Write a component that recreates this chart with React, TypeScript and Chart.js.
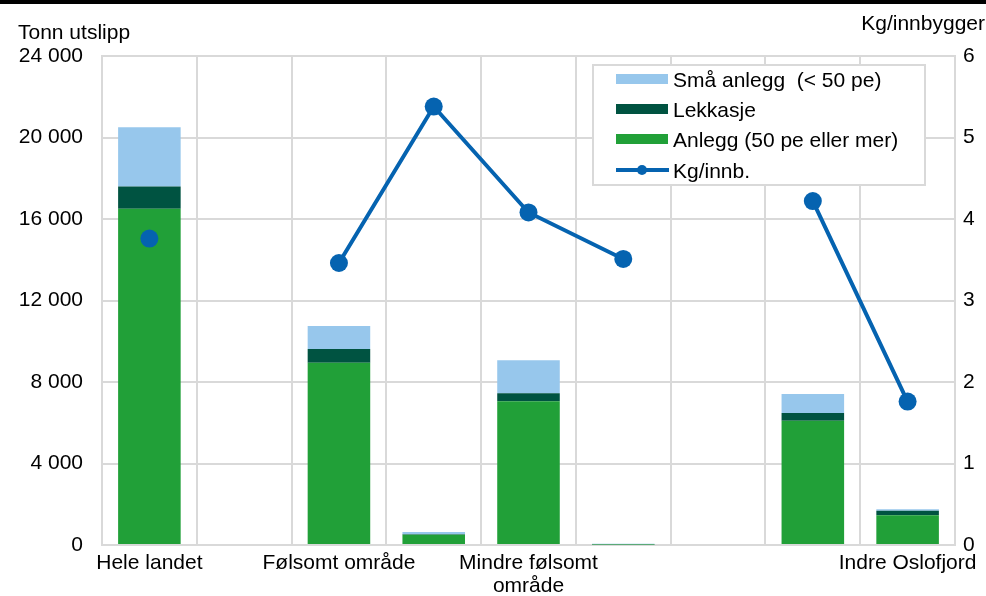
import React, { useEffect, useRef } from "react";
import { Chart, registerables } from "chart.js";

Chart.register(...registerables);

const categories: (string | string[])[] = [
  "Hele landet",
  "",
  "Følsomt område",
  "",
  ["Mindre følsomt", "område"],
  "",
  "",
  "",
  "Indre Oslofjord",
];
const anlegg = [16500, null, 8950, 500, 7050, 30, null, 6100, 1460];
const lekkasje = [1100, null, 670, 30, 400, 10, null, 380, 220];
const smaAnlegg = [2900, null, 1130, 110, 1620, 20, null, 930, 70];
const kgInnb = [3.76, null, 3.46, 5.38, 4.08, 3.51, null, 4.22, 1.76];

const leftTicks = [0, 4000, 8000, 12000, 16000, 20000, 24000];
const rightTicks = [0, 1, 2, 3, 4, 5, 6];

const legendLabels = ["Små anlegg  (< 50 pe)", "Lekkasje", "Anlegg (50 pe eller mer)", "Kg/innb."];

const C_SMA = "#97c7ec";
const C_LEK = "#005341";
const C_ANL = "#21a038";
const C_LINE = "#0563b0";
const GRID = "#d9d9d9";
const FONT = "'Liberation Sans', Arial, sans-serif";
const FS = 21;

const overlay = {
  id: "overlay",
  afterDraw(chart: any) {
    const ctx = chart.ctx;
    ctx.save();
    ctx.fillStyle = "#000";
    ctx.fillRect(0, 0, chart.width, 4);
    ctx.font = `${FS}px ${FONT}`;
    ctx.textBaseline = "alphabetic";
    ctx.textAlign = "left";
    ctx.fillText("Tonn utslipp", 18, 39);
    ctx.textAlign = "right";
    ctx.fillText("Kg/innbygger", 985, 30);

    // legend box
    ctx.fillStyle = "#fff";
    ctx.fillRect(593, 65, 332, 120);
    ctx.strokeStyle = GRID;
    ctx.lineWidth = 2;
    ctx.strokeRect(593, 65, 332, 120);

    const colors = [C_SMA, C_LEK, C_ANL];
    const centers = [79, 109, 139, 170];
    for (let i = 0; i < 4; i++) {
      const cy = centers[i];
      if (i < 3) {
        ctx.fillStyle = colors[i];
        ctx.fillRect(616, cy - 5, 52, 10);
      } else {
        ctx.strokeStyle = C_LINE;
        ctx.lineWidth = 4;
        ctx.beginPath();
        ctx.moveTo(616, cy);
        ctx.lineTo(669, cy);
        ctx.stroke();
        ctx.fillStyle = C_LINE;
        ctx.beginPath();
        ctx.arc(642, cy, 5, 0, Math.PI * 2);
        ctx.fill();
      }
      ctx.fillStyle = "#000";
      ctx.textAlign = "left";
      ctx.fillText(legendLabels[i], 673, cy + 8);
    }
    ctx.restore();
  },
};

export default function App() {
  const ref = useRef<HTMLCanvasElement>(null);
  useEffect(() => {
    document.body.style.margin = "0";
    const chart = new Chart(ref.current as HTMLCanvasElement, {
      type: "bar",
      data: {
        labels: categories as any,
        datasets: [
          {
            type: "line",
            label: legendLabels[3],
            data: kgInnb as any,
            yAxisID: "y1",
            borderColor: C_LINE,
            backgroundColor: C_LINE,
            borderWidth: 4,
            pointRadius: 9,
            pointBackgroundColor: C_LINE,
            pointBorderWidth: 0,
            spanGaps: false,
            tension: 0,
            order: 0,
          } as any,
          {
            type: "bar",
            label: legendLabels[2],
            data: anlegg as any,
            backgroundColor: C_ANL,
            yAxisID: "y",
            stack: "s",
            barPercentage: 0.66,
            categoryPercentage: 1,
            order: 1,
          },
          {
            type: "bar",
            label: legendLabels[1],
            data: lekkasje as any,
            backgroundColor: C_LEK,
            yAxisID: "y",
            stack: "s",
            barPercentage: 0.66,
            categoryPercentage: 1,
            order: 2,
          },
          {
            type: "bar",
            label: legendLabels[0],
            data: smaAnlegg as any,
            backgroundColor: C_SMA,
            yAxisID: "y",
            stack: "s",
            barPercentage: 0.66,
            categoryPercentage: 1,
            order: 3,
          },
        ],
      },
      options: {
        animation: false,
        responsive: true,
        maintainAspectRatio: false,
        layout: { padding: { top: 56, left: 0, right: 0, bottom: 0 } },
        plugins: { legend: { display: false }, tooltip: { enabled: false } },
        scales: {
          x: {
            stacked: true,
            grid: { display: true, offset: true, color: GRID, lineWidth: 2, drawTicks: false },
            border: { display: true, color: GRID, width: 2 },
            ticks: {
              autoSkip: false,
              maxRotation: 0,
              minRotation: 0,
              padding: 7,
              color: "#000",
              font: { family: FONT, size: FS, lineHeight: 1.1 },
            },
            afterFit: (s: any) => {
              s.height = 51;
            },
          },
          y: {
            position: "left",
            stacked: true,
            min: 0,
            max: 24000,
            afterBuildTicks: (s: any) => {
              s.ticks = leftTicks.map((v) => ({ value: v }));
            },
            grid: { color: GRID, lineWidth: 2, drawTicks: false },
            border: { display: true, color: GRID, width: 2 },
            ticks: {
              padding: 19,
              color: "#000",
              font: { family: FONT, size: FS },
              callback: (v: any) => String(v).replace(/\B(?=(\d{3})+(?!\d))/g, " "),
            },
            afterFit: (s: any) => {
              s.width = 102;
            },
          },
          y1: {
            position: "right",
            min: 0,
            max: 6,
            afterBuildTicks: (s: any) => {
              s.ticks = rightTicks.map((v) => ({ value: v }));
            },
            grid: { display: false, drawTicks: false },
            border: { display: true, color: GRID, width: 2 },
            ticks: {
              padding: 8,
              color: "#000",
              font: { family: FONT, size: FS },
            },
            afterFit: (s: any) => {
              s.width = 31;
            },
          },
        },
      },
      plugins: [overlay],
    });
    return () => chart.destroy();
  }, []);
  return (
    <div style={{ position: "absolute", left: 0, top: 0, width: 986, height: 596 }}>
      <canvas ref={ref} />
    </div>
  );
}
